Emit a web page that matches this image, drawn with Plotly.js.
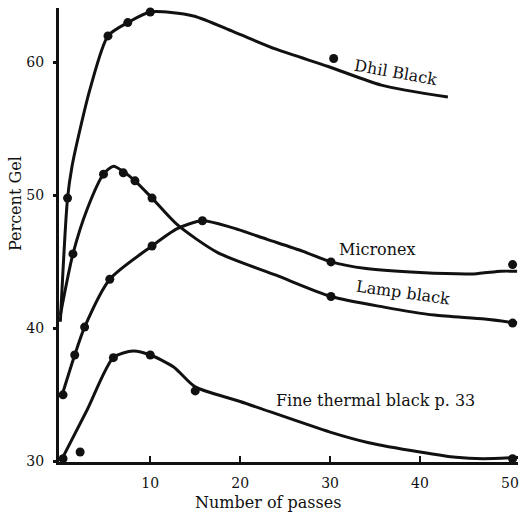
<!DOCTYPE html>
<html>
<head>
<meta charset="utf-8">
<script src="https://cdn.plot.ly/plotly-3.0.1.min.js"></script>
<style>html,body{margin:0;padding:0;background:#fff;}#chart{width:525px;height:516px;}</style>
</head>
<body>
<div id="chart"></div>
<script>
// Traced smooth curves
const dhilCurveX = [0, 0.8, 1.3, 2.2, 3.3, 5.3, 7.5, 10, 14.8, 19.3, 24, 29.8, 35.7, 43.1];
const dhilCurveY = [40.5, 49.8, 52.2, 55.0, 58.0, 62.0, 63.0, 63.8, 63.5, 62.3, 61.0, 59.7, 58.3, 57.4];
const dhilPtsX = [0.8, 5.3, 7.5, 10, 30.4];
const dhilPtsY = [49.8, 62.0, 63.0, 63.8, 60.3];

const lampCurveX = [0, 1.4, 3, 4.8, 5.9, 7.0, 8.3, 10.2, 13, 17.5, 24, 30.1, 36, 41.6, 47.2, 50.8];
const lampCurveY = [41.0, 45.6, 49.0, 51.6, 52.2, 51.8, 51.1, 49.8, 47.8, 45.7, 44.0, 42.4, 41.6, 41.0, 40.7, 40.4];
const lampPtsX = [1.4, 4.8, 7.0, 8.3, 10.2, 30.1, 50.3];
const lampPtsY = [45.6, 51.6, 51.7, 51.1, 49.8, 42.4, 40.4];

const micCurveX = [0.2, 1.6, 2.7, 5.5, 10.2, 13, 15.8, 19, 23, 27, 30.1, 34, 40, 46, 49, 50.8];
const micCurveY = [35.0, 38.0, 40.1, 43.7, 46.2, 47.5, 48.1, 47.6, 46.7, 45.8, 45.0, 44.5, 44.2, 44.1, 44.3, 44.3];
const micPtsX = [0.3, 1.6, 2.7, 5.5, 10.2, 15.8, 30.1, 50.3];
const micPtsY = [35.0, 38.0, 40.1, 43.7, 46.2, 48.1, 45.0, 44.8];

const fineCurveX = [0.2, 3, 5.9, 8.1, 10, 12.6, 15, 20, 30, 34.3, 40, 44, 47, 51];
const fineCurveY = [30.2, 33.9, 37.8, 38.3, 38.0, 37.1, 35.6, 34.5, 32.2, 31.4, 30.7, 30.3, 30.2, 30.3];
const finePtsX = [0.3, 2.2, 5.9, 10, 15, 50.3];
const finePtsY = [30.2, 30.7, 37.8, 38.0, 35.3, 30.2];

const xTicks = [10, 20, 30, 40, 50];
const yTicks = [30, 40, 50, 60];

const ink = '#111';
const serif = 'DejaVu Serif, Liberation Serif, serif';

function curve(x, y) {
  return {x: x, y: y, mode: 'lines', type: 'scatter', line: {color: ink, width: 3, shape: 'spline', smoothing: 0.7}, hoverinfo: 'skip', showlegend: false, cliponaxis: false};
}
function pts(x, y) {
  return {x: x, y: y, mode: 'markers', type: 'scatter', marker: {color: ink, size: 9}, showlegend: false, cliponaxis: false};
}

const data = [
  curve(dhilCurveX, dhilCurveY), pts(dhilPtsX, dhilPtsY),
  curve(lampCurveX, lampCurveY), pts(lampPtsX, lampPtsY),
  curve(micCurveX, micCurveY), pts(micPtsX, micPtsY),
  curve(fineCurveX, fineCurveY), pts(finePtsX, finePtsY)
];

const L = 59, T = 8, W = 459, H = 454;
function ann(px, py, text, angle, size) {
  return {xref: 'paper', yref: 'paper', x: (px - L) / W, y: (T + H - py) / H, xanchor: 'center', yanchor: 'middle',
          text: text, textangle: angle || 0, showarrow: false, font: {family: serif, size: size || 16, color: ink}};
}
const layout = {
  width: 525, height: 516,
  margin: {l: L, r: 525 - L - W, t: T, b: 516 - T - H},
  paper_bgcolor: '#fff', plot_bgcolor: '#fff',
  showlegend: false,
  font: {family: serif, color: ink, size: 15},
  xaxis: {range: [-0.15, 50.9], tickvals: xTicks, ticktext: xTicks.map(String), showgrid: false, zeroline: false,
          showline: true, linecolor: ink, linewidth: 3, ticks: 'inside', ticklen: 6, tickwidth: 2, tickcolor: ink,
          tickfont: {family: serif, size: 14, color: ink}, ticklabelstandoff: 6},
  yaxis: {range: [29.95, 64.1], tickvals: yTicks, ticktext: yTicks.map(String), showgrid: false, zeroline: false,
          showline: true, linecolor: ink, linewidth: 3, ticks: 'outside', ticklen: 3, tickwidth: 3, tickcolor: ink,
          tickfont: {family: serif, size: 14, color: ink}, ticklabelstandoff: 6},
  annotations: [
    ann(15, 204, 'Percent Gel', -90, 16),
    ann(268, 503, 'Number of passes', 0, 16),
    ann(396, 72, 'Dhil Black', 10, 16),
    ann(377, 249, 'Micronex', 0, 16),
    ann(403, 292, 'Lamp black', 8, 16),
    ann(375, 400, 'Fine thermal black p. 33', 0, 16)
  ]
};

Plotly.newPlot('chart', data, layout, {staticPlot: true, displayModeBar: false});
</script>
</body>
</html>
